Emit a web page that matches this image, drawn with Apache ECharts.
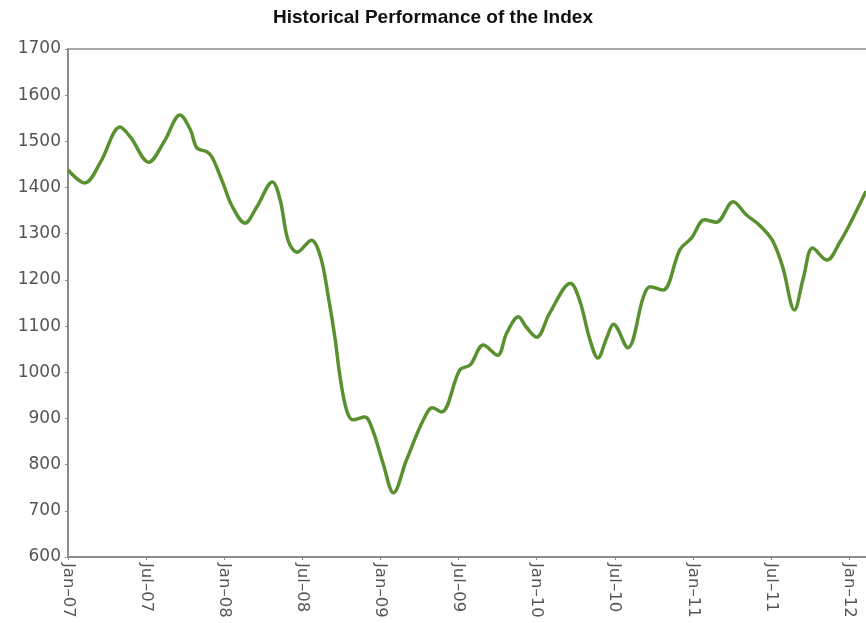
<!DOCTYPE html>
<html>
<head>
<meta charset="utf-8">
<script src="https://cdn.jsdelivr.net/npm/echarts@6/dist/echarts.min.js"></script>
<style>
  html, body { margin: 0; padding: 0; background: #fff; }
  #main { width: 866px; height: 623px; }
</style>
</head>
<body>
<div id="main"></div>
<script>
// months since Jan-07
var months = [0, 1.3, 2.5, 4.0, 4.8, 6.2, 7.4, 8.6, 9.4, 9.9, 10.7, 11.1, 11.9, 12.6, 13.6, 14.5, 15.7, 16.3, 16.9, 17.6,
  18.7, 19.4, 20.0, 20.5, 20.9, 21.4, 21.9, 22.8, 23.4, 24.2, 25.0, 26.0, 27.3, 28.0, 28.7, 30.1, 30.9, 31.9,
  33.0, 33.7, 34.6, 35.2, 36.0, 37.0, 38.6, 39.3, 40.1, 40.7, 41.4, 41.9, 43.0, 44.2, 44.7, 45.7, 47.0, 47.9,
  48.9, 49.8, 51.1, 52.1, 53.1, 54.1, 54.9, 55.8, 56.5, 57.2, 58.3, 59.3, 60.1, 61.3];
// index level
var values = [1438, 1410, 1455, 1531, 1509, 1455, 1500, 1557, 1525, 1486, 1477, 1464, 1410, 1360, 1323, 1358, 1412, 1373, 1286, 1260,
  1286, 1250, 1163, 1076, 990, 918, 897, 903, 875, 803, 739, 810, 897, 923, 914, 1005, 1016, 1059,
  1037, 1085, 1120, 1098, 1076, 1128, 1193, 1156, 1070, 1031, 1076, 1104, 1053, 1163, 1185, 1178, 1265, 1291,
  1330, 1325, 1369, 1341, 1319, 1286, 1228, 1135, 1206, 1269, 1243, 1282, 1323, 1392];
var xTickLabels = ['Jan\u201307', 'Jul\u201307', 'Jan\u201308', 'Jul\u201308', 'Jan\u201309', 'Jul\u201309',
  'Jan\u201310', 'Jul\u201310', 'Jan\u201311', 'Jul\u201311', 'Jan\u201312'];

var chart = echarts.init(document.getElementById('main'));
var axisColor = '#8c8c8c';
chart.setOption({
  animation: false,
  title: {
    text: 'Historical Performance of the Index',
    left: 'center',
    top: 3,
    textStyle: { fontFamily: 'Liberation Sans', fontWeight: 'bold', fontSize: 19, color: '#111' }
  },
  grid: { left: 68, right: 0, top: 49, bottom: 66 },
  xAxis: [{
    type: 'value',
    min: 0,
    max: 61.3,
    interval: 6,
    axisLine: { show: true, lineStyle: { color: axisColor, width: 2 } },
    axisTick: { show: true, length: 3, lineStyle: { color: axisColor } },
    splitLine: { show: false },
    axisLabel: {
      rotate: -90,
      showMaxLabel: false,
      margin: 6,
      color: '#555',
      fontFamily: 'DejaVu Sans',
      fontSize: 16.5,
      formatter: function (v) { return xTickLabels[Math.round(v / 6)] || ''; }
    }
  }, {
    type: 'value',
    position: 'top',
    min: 0,
    max: 61.3,
    axisLine: { show: true, lineStyle: { color: axisColor, width: 1.5 } },
    axisTick: { show: false },
    axisLabel: { show: false },
    splitLine: { show: false }
  }],
  yAxis: {
    type: 'value',
    min: 600,
    max: 1700,
    interval: 100,
    axisLine: { show: true, lineStyle: { color: axisColor, width: 2 } },
    axisTick: { show: true, length: 3, lineStyle: { color: axisColor } },
    splitLine: { show: false },
    axisLabel: {
      color: '#555', fontFamily: 'DejaVu Sans', fontSize: 17, margin: 7,
      formatter: function (v) { return String(v); }
    }
  },
  series: [{
    type: 'line',
    data: months.map(function (m, i) { return [m, values[i]]; }),
    smooth: 0.35,
    showSymbol: false,
    lineStyle: { color: '#5a9130', width: 3.5 }
  }]
});
</script>
</body>
</html>
